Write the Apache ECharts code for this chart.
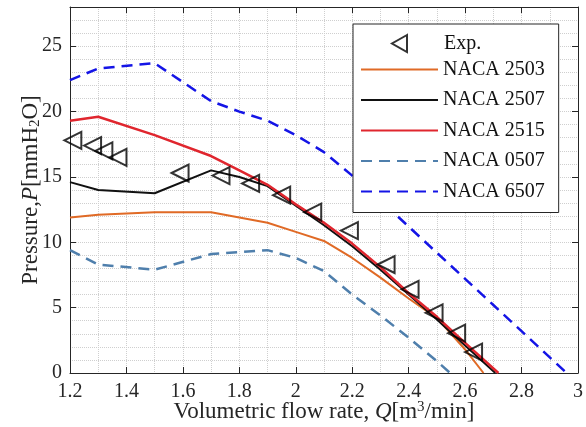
<!DOCTYPE html>
<html>
<head>
<meta charset="utf-8">
<script src="https://cdn.jsdelivr.net/npm/echarts@6/dist/echarts.min.js"></script>
<style>
  html, body { margin: 0; padding: 0; background: #fff; }
  #chart { width: 586px; height: 427px; }
</style>
</head>
<body>
<div id="chart"></div>
<script>
(function () {
  'use strict';

  // experiment
  var qExp = [1.21, 1.28, 1.32, 1.37, 1.59, 1.735, 1.84, 1.95, 2.06, 2.19, 2.32, 2.405, 2.49, 2.57, 2.63];
  var pExp = [17.8, 17.4, 17.0, 16.5, 15.3, 15.1, 14.5, 13.6, 12.3, 10.9, 8.3, 6.4, 4.6, 3.05, 1.6];

  // simulations
  var q2503 = [1.2, 1.3, 1.5, 1.7, 1.9, 2.0, 2.1, 2.2, 2.3, 2.4, 2.5, 2.6, 2.665];
  var p2503 = [11.9, 12.1, 12.3, 12.3, 11.5, 10.8, 10.1, 8.8, 7.3, 5.7, 4.2, 1.8, 0];

  var q2507 = [1.2, 1.3, 1.5, 1.7, 1.8, 1.9, 2.0, 2.1, 2.2, 2.3, 2.4, 2.5, 2.6, 2.707];
  var p2507 = [14.6, 14.0, 13.75, 15.5, 15.0, 14.3, 12.8, 11.3, 9.7, 7.9, 6.0, 4.1, 2.1, 0];

  var q2515 = [1.2, 1.3, 1.5, 1.7, 1.8, 1.9, 2.0, 2.1, 2.2, 2.3, 2.4, 2.5, 2.6, 2.718];
  var p2515 = [19.3, 19.6, 18.2, 16.6, 15.5, 14.4, 12.9, 11.5, 9.9, 8.1, 6.1, 4.3, 2.3, 0];

  var q0507 = [1.2, 1.3, 1.5, 1.7, 1.9, 2.0, 2.1, 2.2, 2.3, 2.4, 2.5, 2.547];
  var p0507 = [9.4, 8.3, 7.9, 9.1, 9.4, 8.8, 7.8, 6.0, 4.4, 2.7, 0.9, 0];

  var q6507 = [1.2, 1.3, 1.5, 1.7, 1.8, 1.9, 2.0, 2.1, 2.2, 2.3, 2.4, 2.5, 2.6, 2.7, 2.8, 2.9, 2.96];
  var p6507 = [22.4, 23.3, 23.7, 20.8, 20.0, 19.3, 18.2, 16.9, 15.1, 13.2, 11.2, 9.2, 7.2, 5.2, 3.2, 1.2, 0];

  var LINE_NAMES = ['NACA 2503', 'NACA 2507', 'NACA 2515', 'NACA 0507', 'NACA 6507'];

  var FONT = '"Liberation Serif", "DejaVu Serif", serif';
  var TXT = '#262626';
  var GRIDC = '#cfcfcf';

  function pairs(q, p) {
    return q.map(function (v, i) { return [v, p[i]]; });
  }

  function lineSeries(name, q, p, color, width, dashed) {
    return {
      type: 'line',
      name: name,
      data: pairs(q, p),
      showSymbol: false,
      symbol: 'none',
      lineStyle: { color: color, width: width, type: dashed ? [11, 7] : 'solid' },
      itemStyle: { color: color },
      z: 3,
    };
  }

  function boxAxis(pos, min, max, interval) {
    return {
      type: 'value',
      position: pos,
      min: min,
      max: max,
      interval: interval,
      axisLine: { show: true, onZero: false, lineStyle: { color: TXT, width: 1 } },
      axisTick: { show: true, inside: true, length: 6, lineStyle: { color: TXT } },
      axisLabel: { show: false },
      splitLine: { show: false },
    };
  }

  var dotted = { color: GRIDC, type: 'dotted', width: 1 };

  var chart = echarts.init(document.getElementById('chart'), null, { renderer: 'canvas' });

  chart.setOption({
    backgroundColor: '#fff',
    animation: false,
    textStyle: { fontFamily: FONT },
    grid: { left: 70, top: 7, width: 508, height: 366, containLabel: false, outerBoundsMode: 'none' },
    legend: [{
      // lines, the box is drawn by this one
      orient: 'vertical',
      left: 353,
      top: 24,
      padding: [35.5, 14, 11, 7],
      itemWidth: 77,
      itemHeight: 14,
      itemGap: 10.5,
      backgroundColor: '#fff',
      borderColor: TXT,
      borderWidth: 1,
      textStyle: { fontFamily: FONT, fontSize: 20, color: '#111' },
      data: LINE_NAMES.map(function (n) { return { name: n, itemStyle: { opacity: 0 } }; }),
      z: 6,
    }, {
      // experiment marker row
      orient: 'vertical',
      left: 391,
      top: 33.5,
      padding: 0,
      itemWidth: 15,
      itemHeight: 17,
      textStyle: { fontFamily: FONT, fontSize: 20, color: '#111', padding: [0, 0, 0, 32] },
      data: [{ name: 'Exp.', icon: 'path://M15,0L0,8.5L15,17Z' }],
      z: 8,
    }],
    xAxis: [{
      type: 'value',
      min: 1.2,
      max: 3.0,
      interval: 0.2,
      name: '{t|Volumetric flow rate, }{i|Q}{t|[m}{sup|3}{t|/min]}',
      nameLocation: 'middle',
      nameGap: 27,
      nameMoveOverlap: false,
      nameTextStyle: {
        rich: {
          t: { fontFamily: FONT, fontSize: 23, color: TXT },
          i: { fontFamily: FONT, fontSize: 23, color: TXT, fontStyle: 'italic' },
          sup: { fontFamily: FONT, fontSize: 15, color: TXT, verticalAlign: 'top', padding: [0, 0, 9, 0] },
        },
      },
      axisLine: { show: true, onZero: false, lineStyle: { color: TXT, width: 1 } },
      axisTick: { show: true, inside: true, length: 6, lineStyle: { color: TXT } },
      axisLabel: { color: TXT, fontFamily: FONT, fontSize: 20, margin: 9 },
      splitLine: { show: true, lineStyle: dotted },
      minorTick: { show: false, splitNumber: 2 },
      minorSplitLine: { show: true, lineStyle: dotted },
    }, boxAxis('top', 1.2, 3.0, 0.2)],
    yAxis: [{
      type: 'value',
      min: 0,
      max: 28,
      interval: 5,
      name: '{t|Pressure,}{i|P}{t|[mmH}{sub|2}{t|O]}',
      nameLocation: 'middle',
      nameRotate: 90,
      nameGap: 27,
      nameMoveOverlap: false,
      nameTextStyle: {
        rich: {
          t: { fontFamily: FONT, fontSize: 23, color: TXT },
          i: { fontFamily: FONT, fontSize: 23, color: TXT, fontStyle: 'italic' },
          sub: { fontFamily: FONT, fontSize: 15, color: TXT, verticalAlign: 'bottom', padding: [9, 0, 0, 0] },
        },
      },
      axisLine: { show: true, onZero: false, lineStyle: { color: TXT, width: 1 } },
      axisTick: { show: true, inside: true, length: 6, lineStyle: { color: TXT } },
      axisLabel: { color: TXT, fontFamily: FONT, fontSize: 20, margin: 8, showMaxLabel: false },
      splitLine: { show: true, lineStyle: dotted },
      minorTick: { show: false, splitNumber: 5 },
      minorSplitLine: { show: true, lineStyle: dotted },
    }, boxAxis('right', 0, 28, 5)],
    series: [
      {
        type: 'scatter',
        name: 'Exp.',
        data: pairs(qExp, pExp),
        symbol: 'triangle',
        symbolSize: 17,
        symbolRotate: 90,
        itemStyle: { color: 'rgba(255,255,255,0)', borderColor: '#000', borderWidth: 2 },
        z: 5,
      },
      lineSeries(LINE_NAMES[0], q2503, p2503, '#e06a26', 2, false),
      lineSeries(LINE_NAMES[1], q2507, p2507, '#111111', 2, false),
      lineSeries(LINE_NAMES[2], q2515, p2515, '#e0262e', 2.5, false),
      lineSeries(LINE_NAMES[3], q0507, p0507, '#4f7fac', 2.5, true),
      lineSeries(LINE_NAMES[4], q6507, p6507, '#1414e6', 2.5, true),
    ],
  });
})();
</script>
</body>
</html>
